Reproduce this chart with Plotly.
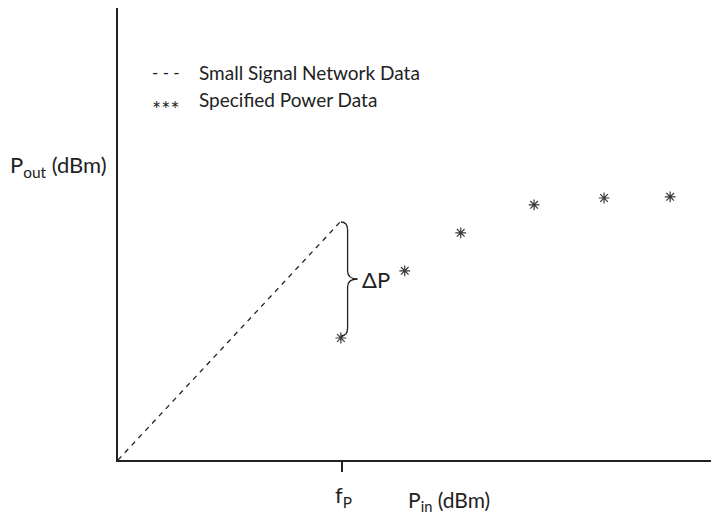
import plotly.graph_objects as go

# ---- data ----
f_p = 4.0                                  # Pin at which power data starts
small_signal_x = [0.0, 4.0]                # small-signal (linear) extrapolation
small_signal_y = [0.0, 6.0]
power_x = [3.98, 5.12, 6.12, 7.43, 8.68, 9.86]   # specified power data (Pin)
power_y = [3.05, 4.73, 5.68, 6.38, 6.55, 6.58]   # specified power data (Pout)
legend_labels = ["Small Signal Network Data", "Specified Power Data"]

FONT = "Lato, Roboto, DejaVu Sans, sans-serif"
INK = "#222222"

fig = go.Figure()
fig.add_trace(go.Scatter(x=small_signal_x, y=small_signal_y, mode="lines",
                         line=dict(color=INK, width=1.3, dash="5px,5px"),
                         showlegend=False, hoverinfo="skip"))
fig.add_trace(go.Scatter(x=power_x, y=power_y, mode="markers",
                         marker=dict(symbol="asterisk-open", size=9, color="#3a3a3a",
                                     line=dict(color="#3a3a3a", width=1.2)),
                         showlegend=False, hoverinfo="skip"))

# brace between small-signal end and first power point
yt = small_signal_y[-1] - 0.05
yb = power_y[0] + 0.05
xf = f_p - 0.02
ym = (yt + yb) / 2
a, tip, r = 0.12, 0.3, 0.2
path = (f"M {xf},{yt} Q {xf+a},{yt} {xf+a},{yt-r} L {xf+a},{ym+r} "
        f"Q {xf+a},{ym} {xf+tip},{ym} Q {xf+a},{ym} {xf+a},{ym-r} "
        f"L {xf+a},{yb+r} Q {xf+a},{yb} {xf},{yb}")
fig.add_shape(type="path", path=path, xref="x", yref="y",
              line=dict(color=INK, width=1.3))

# page body has an 8px margin: figure is drawn offset by (8, 8)
OFF = 8
W, H = 719 - OFF, 525 - OFF
L, R, T, B = 118 - OFF, 0, 8 - OFF, 525 - 460
pw, ph = W - L - R, H - T - B

def px(x):
    return (x - OFF - L) / pw

def py(y):
    return (H - B - (y - OFF)) / ph

ann = []
def add(text, x, y, size, xanchor="left"):
    ann.append(dict(text=text, x=px(x), y=py(y), xref="paper", yref="paper",
                    showarrow=False, xanchor=xanchor, yanchor="middle",
                    font=dict(family=FONT, size=size, color=INK)))

add("- - -", 150, 73, 17)
add(legend_labels[0], 197, 72, 19)
add("∗∗∗", 150, 103, 11)
add(legend_labels[1], 197, 100, 19)
add("P<sub>out</sub> (dBm)", 58, 166, 22, "center")
add("f<sub>P</sub>", 343, 496, 22, "center")
add("P<sub>in</sub> (dBm)", 449, 501, 21, "center")
ann.append(dict(text="ΔP", x=f_p + 0.32, y=(yt + yb) / 2, xref="x", yref="y",
                showarrow=False, xanchor="left", yanchor="middle",
                font=dict(family=FONT, size=22, color=INK)))

fig.update_layout(
    width=W, height=H,
    margin=dict(l=L, r=R, t=T, b=B, pad=0),
    paper_bgcolor="white", plot_bgcolor="white",
    annotations=ann,
    xaxis=dict(range=[0, pw / 56.0], showgrid=False, zeroline=False,
               showline=True, linecolor=INK, linewidth=2,
               ticks="outside", ticklen=10, tickwidth=2, tickcolor=INK,
               tickvals=[f_p], showticklabels=False, fixedrange=True),
    yaxis=dict(range=[0, ph / 40.0], showgrid=False, zeroline=False,
               showline=True, linecolor=INK, linewidth=2,
               ticks="", showticklabels=False, fixedrange=True),
)

fig.write_html("out.html")
